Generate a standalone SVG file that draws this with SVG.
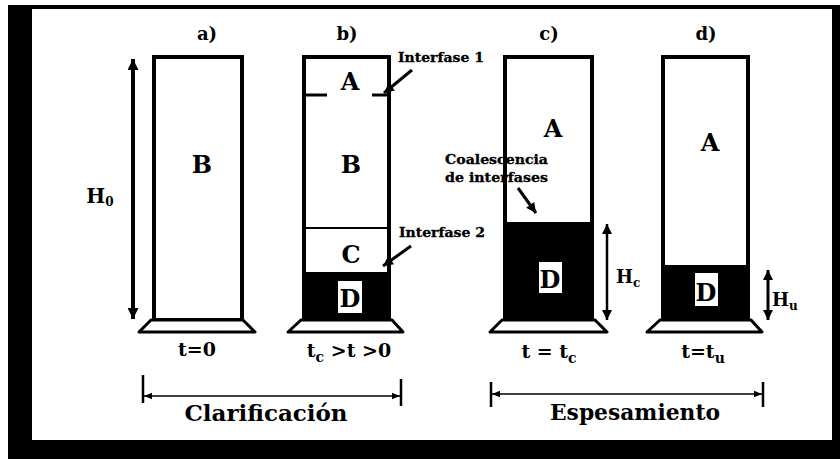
<svg xmlns="http://www.w3.org/2000/svg" width="840" height="459" viewBox="0 0 840 459">
<defs>
<style>
.wall{fill:#fff;stroke:#000;stroke-width:4}
.base{fill:#fff;stroke:#000;stroke-width:3;stroke-linejoin:round}
.sed{fill:#000}
.t{font-family:"DejaVu Serif","Liberation Serif",serif;font-weight:bold;fill:#000}
.big{font-size:24px;text-anchor:middle}
.lab{font-size:18px;text-anchor:middle}
.small{font-size:12px;stroke:#000;stroke-width:0.3}
.time{font-size:19px;text-anchor:middle}
.dim{font-size:22px;text-anchor:middle}
.ln{stroke:#000;fill:none}
</style>
<marker id="ah" viewBox="0 0 10 10" refX="10" refY="5" markerWidth="12" markerHeight="11" markerUnits="userSpaceOnUse" orient="auto-start-reverse"><path d="M0,0 L10,5 L0,10 Z" fill="#000"/></marker>
<marker id="ahs" viewBox="0 0 10 10" refX="10" refY="5" markerWidth="11" markerHeight="10" markerUnits="userSpaceOnUse" orient="auto-start-reverse"><path d="M0,0 L10,5 L0,10 Z" fill="#000"/></marker>
<marker id="tk" viewBox="0 0 10 10" refX="10" refY="5" markerWidth="8" markerHeight="8" markerUnits="userSpaceOnUse" orient="auto-start-reverse"><path d="M0,1 L10,5 L0,9 Z" fill="#000"/></marker>
</defs>
<rect x="0" y="0" width="840" height="459" fill="#fff"/>
<rect x="8" y="5" width="832" height="454" fill="#000"/>
<rect x="32" y="9" width="800" height="431" fill="#fff"/>

<g id="cyl-a">
<rect class="wall" x="154" y="57" width="88" height="263"/>
<path class="base" d="M151,320 L243,320 L255,332 L139,332 Z"/>
<text class="t lab" x="207" y="40">a)</text>
<text class="t big" x="202" y="173">B</text>
<text class="t time" x="197" y="356">t=0</text>
</g>

<g id="cyl-b">
<rect class="wall" x="304" y="57" width="85" height="263"/>
<rect class="sed" x="304" y="272" width="85" height="48"/>
<line class="ln" x1="304" y1="95" x2="327" y2="95" stroke-width="3"/>
<line class="ln" x1="372" y1="95" x2="389" y2="95" stroke-width="3"/>
<line class="ln" x1="304" y1="228" x2="389" y2="228" stroke-width="2"/>
<rect x="304" y="57" width="85" height="263" fill="none" stroke="#000" stroke-width="4"/>
<path class="base" d="M301,320 L392,320 L403,332 L288,332 Z"/>
<text class="t lab" x="347" y="40">b)</text>
<text class="t big" x="350" y="90">A</text>
<text class="t big" x="351" y="173">B</text>
<text class="t big" x="351" y="263">C</text>
<rect x="338" y="281" width="24" height="32" fill="#fff"/>
<text class="t big" x="350" y="307">D</text>
<text class="t time" x="349" y="357">t<tspan font-size="14" dy="5">c</tspan><tspan dy="-5"> &gt;t &gt;0</tspan></text>
</g>

<g id="cyl-c">
<rect class="wall" x="505" y="57" width="87" height="263"/>
<rect class="sed" x="505" y="222" width="87" height="98"/>
<rect x="505" y="57" width="87" height="263" fill="none" stroke="#000" stroke-width="4"/>
<path class="base" d="M502,320 L595,320 L607,332 L490,332 Z"/>
<text class="t lab" x="549" y="40">c)</text>
<text class="t big" x="553" y="137">A</text>
<rect x="539" y="262" width="23" height="31" fill="#fff"/>
<text class="t big" x="550" y="288">D</text>
<text class="t time" x="549" y="358">t = t<tspan font-size="14" dy="5">c</tspan></text>
</g>

<g id="cyl-d">
<rect class="wall" x="663" y="57" width="85" height="263"/>
<rect class="sed" x="663" y="265" width="85" height="55"/>
<rect x="663" y="57" width="85" height="263" fill="none" stroke="#000" stroke-width="4"/>
<path class="base" d="M660,320 L751,320 L762,332 L647,332 Z"/>
<text class="t lab" x="706" y="40">d)</text>
<text class="t big" x="710" y="151">A</text>
<rect x="695" y="273" width="23" height="33" fill="#fff"/>
<text class="t big" x="706" y="301">D</text>
<text class="t time" x="703" y="358">t=t<tspan font-size="14" dy="5">u</tspan></text>
</g>

<g id="labels">
<text class="t big" x="100" y="203" style="font-size:20px">H<tspan font-size="12" dy="3">0</tspan></text>
<text class="t" x="616" y="283" style="font-size:18px">H<tspan font-size="12" dy="4">c</tspan></text>
<text class="t" x="772" y="306" style="font-size:18px">H<tspan font-size="12" dy="4">u</tspan></text>
<text class="t small" x="398" y="62" textLength="86" lengthAdjust="spacingAndGlyphs">Interfase 1</text>
<text class="t small" x="399" y="237" textLength="86" lengthAdjust="spacingAndGlyphs">Interfase 2</text>
<text class="t small" x="445" y="164" textLength="103" lengthAdjust="spacingAndGlyphs">Coalescencia</text>
<text class="t small" x="445" y="182" textLength="103" lengthAdjust="spacingAndGlyphs">de interfases</text>
<text class="t dim" x="266" y="421" textLength="163" lengthAdjust="spacingAndGlyphs">Clarificación</text>
<text class="t dim" x="635" y="420" textLength="170" lengthAdjust="spacingAndGlyphs">Espesamiento</text>
</g>

<g id="connectors">
<line class="ln" x1="133" y1="59" x2="133" y2="319" stroke-width="4" marker-start="url(#ah)" marker-end="url(#ah)"/>
<line class="ln" x1="607" y1="224" x2="607" y2="320" stroke-width="2.5" marker-start="url(#ahs)" marker-end="url(#ahs)"/>
<line class="ln" x1="768" y1="270" x2="768" y2="320" stroke-width="3" marker-start="url(#ahs)" marker-end="url(#ahs)"/>
<line class="ln" x1="412" y1="70" x2="384" y2="93" stroke-width="3" marker-end="url(#ahs)"/>
<line class="ln" x1="411" y1="246" x2="383" y2="266" stroke-width="3" marker-end="url(#ahs)"/>
<line class="ln" x1="518" y1="188" x2="536" y2="213" stroke-width="3" marker-end="url(#ahs)"/>
<line class="ln" x1="143" y1="375" x2="143" y2="403" stroke-width="2.5"/>
<line class="ln" x1="401" y1="379" x2="401" y2="406" stroke-width="2.5"/>
<line class="ln" x1="144" y1="396" x2="400" y2="396" stroke-width="1.5" marker-start="url(#tk)" marker-end="url(#tk)"/>
<line class="ln" x1="491" y1="382" x2="491" y2="407" stroke-width="2.5"/>
<line class="ln" x1="763" y1="382" x2="763" y2="407" stroke-width="2.5"/>
<line class="ln" x1="492" y1="394" x2="762" y2="394" stroke-width="1.5" marker-start="url(#tk)" marker-end="url(#tk)"/>
</g>
</svg>
